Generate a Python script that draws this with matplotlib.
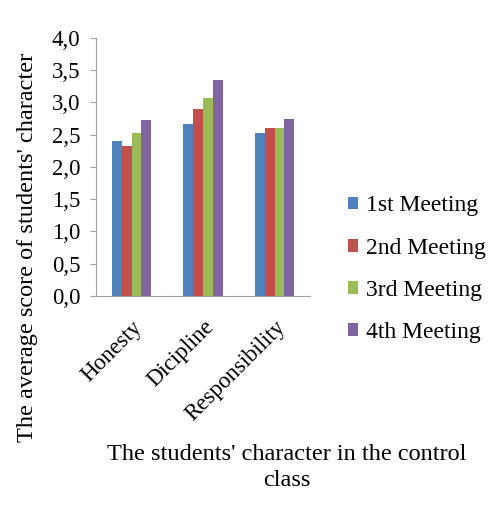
import matplotlib
matplotlib.use('Agg')
import matplotlib.pyplot as plt
import numpy as np

plt.rcParams['font.family'] = ['Liberation Serif', 'DejaVu Serif']

categories = ['Honesty', 'Dicipline', 'Responsibility']
meetings = ['1st Meeting', '2nd Meeting', '3rd Meeting', '4th Meeting']
scores = [
    [2.40, 2.67, 2.52],   # 1st
    [2.33, 2.90, 2.60],   # 2nd
    [2.52, 3.06, 2.60],   # 3rd
    [2.73, 3.35, 2.74],   # 4th
]
colors = ['#4F81BD', '#C0504D', '#9BBB59', '#8064A2']
y_ticks = [0.0, 0.5, 1.0, 1.5, 2.0, 2.5, 3.0, 3.5, 4.0]

fig = plt.figure(figsize=(5.02, 5.18), dpi=100)
ax = fig.add_axes([0.191, 0.429, 0.427, 0.498])

x = np.arange(len(categories))
w = 0.137
for i, (name, vals) in enumerate(zip(meetings, scores)):
    ax.bar(x + (i - 1.5) * w, vals, w, color=colors[i], label=name, zorder=2)

ax.set_xlim(-0.5, 2.5)
ax.set_ylim(0, 4.0)
ax.set_yticks(y_ticks)
ax.set_yticklabels([('%.1f' % t).replace('.', ',') for t in y_ticks], fontsize=16.5)
ax.set_xticks(x)
ax.set_xticklabels(categories, rotation=45, ha='right', rotation_mode='anchor', fontsize=16.5)
ax.tick_params(axis='x', length=0, pad=15)
ax.tick_params(axis='y', length=4, color='#A0A0A0', pad=7)
for s in ['top', 'right']:
    ax.spines[s].set_visible(False)
ax.spines['left'].set_color('#A0A0A0')
ax.spines['bottom'].set_color('#A0A0A0')

fig.text(0.054, 0.523, "The average score of students' character", rotation=90,
         ha='center', va='center', fontsize=17.5)
fig.text(0.572, 0.098, "The students' character in the control\nclass",
         ha='center', va='center', fontsize=17.5, linespacing=1.3)

fig.legend(loc='center left', bbox_to_anchor=(0.65, 0.48), frameon=False,
           fontsize=17, handlelength=0.45, handleheight=0.45, handletextpad=0.35,
           labelspacing=0.9)

fig.savefig('out.png', dpi=100, facecolor='white')
